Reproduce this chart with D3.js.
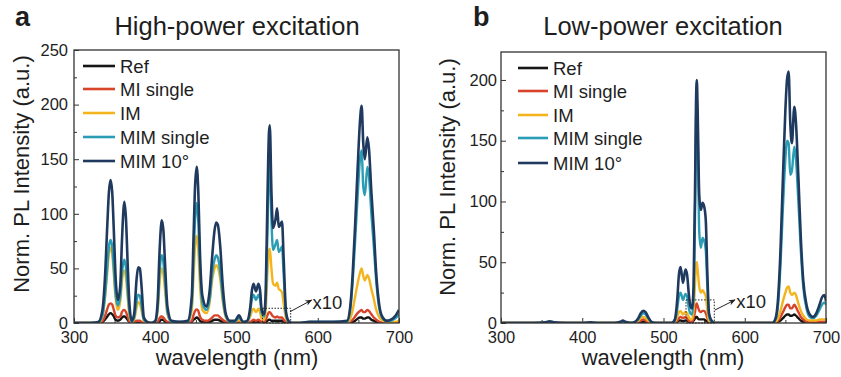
<!DOCTYPE html>
<html><head><meta charset="utf-8">
<script src="https://cdn.jsdelivr.net/npm/d3@7"></script>
<style>
body{margin:0;background:#fff}
svg{display:block}
text{font-family:"Liberation Sans",Arial,sans-serif;fill:#1e1e1e}
</style>
</head><body>
<svg id="chart" width="841" height="377"></svg>
<script>
// ---------------- DATA ----------------
const seriesNames = ["Ref", "MI single", "IM", "MIM single", "MIM 10\u00B0"];

const xTicks = [300, 400, 500, 600, 700];
const xMinorTicks = [350, 450, 550, 650];
const yTicksA = [0, 50, 100, 150, 200, 250];
const yMinorTicksA = [25, 75, 125, 175, 225];
const yTicksB = [0, 50, 100, 150, 200];
const yMinorTicksB = [25, 75, 125, 175];

// Panel a: high-power excitation
const waveA = [300,320,330,335,338,341,343,345,347,349,
  351,354,357,359,361,362,364,366,368,371,
  374,377,379,381,383,386,390,395,400,403,
  405,407,408,410,412,415,420,430,440,445,
  447,449,451,453,455,458,463,467,470,473,
  475,477,480,483,487,492,498,503,508,513,
  517,519,521,524,527,529,531,534,536,538,
  540,541,543,545,548,550,552,554,556,558,
  561,564,568,575,590,620,636,640,643,646,
  649,652,654,656,658,661,663,666,669,672,
  676,680,685,690,695,700];
const refA = [0,0,0,1,3,6,8,9,8,6,
  3,2,3,5,6,6,5,3,1,0,
  0,1,1,1,0,0,0,0,0,0,
  1,3,3,3,1,0,0,0,0,1,
  3,4,5,4,2,1,1,1,2,3,
  3,3,2,1,0,0,0,0,0,0,
  0,1,1,1,1,1,0,0,1,2,
  3,3,2,2,2,2,2,2,2,1,
  0,0,0,0,0,0,0,0,1,2,
  4,5,5,4,4,5,5,3,2,1,
  0,0,0,0,0,0];
const miSingleA = [0,0,0,2,6,13,17,18,17,12,
  7,5,6,10,12,12,10,6,2,0,
  1,2,2,2,1,0,0,0,0,1,
  4,6,6,5,3,1,0,0,0,2,
  7,11,12.5,11,6,3,2,3,5,7,
  7,7,5,3,1,0,0,1,0,0,
  1,2,3,2,3,2,1,1,3,7,
  10,10,8,6,5,6,5,5,5,3,
  1,0,0,0,0,0,0,1,3,6,
  9,11,12,10,10,12,11,8,5,3,
  1,0,0,0,0,0];
const imA = [0,0,0,6,22,47,64,69,63,45,
  24,12,20,38,47,48,41,24,8,1,
  3,14,19,18,12,2,0,0,1,11,
  33,48,50,45,30,8,1,0,1,12,
  40,70,80,66,35,12,9,19,39,50,
  53,51,40,20,5,1,1,3,0,1,
  6,11,13,10,13,10,4,3,12,45,
  66,68,50,36,34,37,31,30,28,18,
  4,1,0,0,0,0,0,4,12,24,
  36,46,50,43,39,44,41,31,22,12,
  5,2,1,1,1,2];
const mimSingleA = [0,0,1,7,24,52,70,76,70,50,
  28,16,25,45,56,58,50,30,12,1,
  5,20,26,25,17,3,1,0,1,14,
  42,60,62,56,38,10,1,1,1,18,
  55,95,110,92,50,18,12,22,45,58,
  62,60,47,24,6,1,1,5,1,1,
  11,22,26,21,26,22,9,6,22,80,
  140,150,95,67,72,76,65,67,70,45,
  8,1,0,0,1,1,1,12,38,75,
  115,150,158,125,117,143,135,100,70,38,
  12,4,2,2,4,8];
const mim10A = [0,0,1,12,40,90,120,131,120,85,
  45,21,35,75,105,111,95,55,20,2,
  8,40,51,50,35,5,1,0,2,20,
  60,88,94,85,55,15,2,1,2,25,
  75,125,143,120,65,25,15,30,60,85,
  92,90,70,35,8,2,2,7,1,2,
  15,30,36,29,36,30,12,8,30,110,
  175,181,120,87,95,105,88,90,93,60,
  10,2,0,0,1,1,2,15,45,90,
  140,185,199,165,150,170,160,120,85,45,
  15,5,2,3,6,12];

// Panel b: low-power excitation
const waveB = [300,340,355,360,365,380,400,410,420,440,
  447,450,453,460,465,469,472,475,478,481,
  485,490,500,510,514,517,519,521,524,527,
  529,531,533,535,537,539,540,541,542,544,
  546,548,550,552,554,556,559,563,570,590,
  620,634,638,641,644,647,650,652,654,656,
  658,661,663,666,669,672,676,680,684,688,
  692,695,698,700];
const refB = [0,0,0,0,0,0,0,0,0,0,
  0,0,0,0,0,0.5,1,1,1,0.5,
  0,0,0,0,0,1,2,2,1.5,2,
  2,1,0.5,0.5,2,4,5,5,4,3,
  3,3,3,2,1,0,0,0,0,0,
  0,0,0,1,2,4,6,7,7,6,
  6,7,6,4,2,1,0.5,0,0,0,
  0,0,0,0];
const miSingleB = [0,0,0,0,0,0,0,0,0,0,
  0,0,0,0,0,1,2,3,2,1,
  0,0,0,0,0.5,2,4,5,4,5,
  4,2,1,1,4,10,15,16,14,10,
  9,10,10,8,4,1,0,0,0,0,
  0,0,0.5,2,5,9,13,15,15,12,
  12,15,13,9,5,3,1,1,1,1,
  1,1,1,1];
const imB = [0,0,0,0.5,0,0,0,0,0,0,
  0,0.5,0,0,0.5,2,4,5,4,2,
  0.5,0,0,0,1,5,9,10,7,9,
  8,5,3,3,10,35,48,50,44,30,
  25,27,25,22,10,2,1,0,0,0,
  0,0,1,4,10,18,25,29,30,25,
  23,25,23,16,10,6,3,2,2,2,
  3,3,3,3];
const mimSingleB = [0,0,0.3,1,0.3,0,0,0.3,0,0,
  0.5,1,0.5,0,1,3,6,8,7,4,
  1,0,0,0,2,12,22,25,19,24,
  22,13,8,7,20,100,165,185,160,75,
  62,70,68,60,30,6,1,0,0,0,
  0,0,3,15,48,95,135,150,148,122,
  125,145,135,100,60,30,12,5,4,6,
  11,15,17,15];
const mim10B = [0,0,0.5,1.5,0.5,0,0,0.5,0,0,
  1,2,1,0,1,4,8,10,9,5,
  1,0,0,0,3,20,40,46,33,44,
  40,25,14,12,30,120,180,200,175,105,
  93,99,96,85,40,8,2,0,0,0,
  0,0,4,20,60,120,175,200,207,165,
  148,178,165,120,70,35,15,7,5,8,
  15,21,23,18];

// ---------------- STYLE / LAYOUT ----------------
const colors = ["#151515", "#d8442a", "#f4b41e", "#2a9cb4", "#1f3a5e"];
const widths = [2.4, 2.4, 2.4, 2.4, 2.6];
const FONT = '"Liberation Sans", Arial, sans-serif';

const panels = [
  {
    letter: "a", title: "High-power excitation",
    left: 74, right: 399, top: 50, bottom: 323, yMax: 250,
    yTicks: yTicksA, yMinor: yMinorTicksA, tickPad: 6,
    wave: waveA, series: [refA, miSingleA, imA, mimSingleA, mim10A],
    letterX: 15, titleX: 237, ylabX: 29, ylabY: 174, xlabX: 237,
    legX: 83, legTextX: 120, legY: [66, 89, 113, 137, 161],
    box: [532, 566.7, 13.5], arrow: [[565.8, 10.3], [592.5, 21]], noteAt: [593.5, 19]
  },
  {
    letter: "b", title: "Low-power excitation",
    left: 501, right: 826, top: 52, bottom: 323, yMax: 223,
    yTicks: yTicksB, yMinor: yMinorTicksB, tickPad: 4,
    wave: waveB, series: [refB, miSingleB, imB, mimSingleB, mim10B],
    letterX: 473, titleX: 663, ylabX: 455, ylabY: 177, xlabX: 663,
    legX: 518, legTextX: 553, legY: [68, 91, 115, 138, 163],
    box: [527.7, 562.5, 19], arrow: [[563.4, 10.7], [588, 19]], noteAt: [589.5, 17.5]
  }
];

const svg = d3.select("#chart");
svg.append("defs").append("marker")
  .attr("id", "arrowhead").attr("viewBox", "0 0 10 10")
  .attr("refX", 9).attr("refY", 5)
  .attr("markerWidth", 7).attr("markerHeight", 7)
  .attr("orient", "auto")
  .append("path").attr("d", "M0,1 L10,5 L0,9 L3,5 Z").attr("fill", "#222");

panels.forEach(p => {
  const x = d3.scaleLinear().domain([300, 700]).range([p.left, p.right]);
  const y = d3.scaleLinear().domain([0, p.yMax]).range([p.bottom, p.top]);
  const g = svg.append("g");

  const clipId = "clip-" + p.letter;
  svg.select("defs").append("clipPath").attr("id", clipId)
    .append("rect").attr("x", p.left).attr("y", p.top)
    .attr("width", p.right - p.left).attr("height", p.bottom - p.top);

  // axes (ticks inward)
  const xAxis = d3.axisBottom(x).tickValues(xTicks).tickSize(-5).tickPadding(8).tickFormat(d3.format("d"));
  const xMinor = d3.axisBottom(x).tickValues(xMinorTicks).tickSize(-3).tickFormat("");
  const yAxis = d3.axisLeft(y).tickValues(p.yTicks).tickSize(-5).tickPadding(p.tickPad).tickFormat(d3.format("d"));
  const yMinor = d3.axisLeft(y).tickValues(p.yMinor).tickSize(-3).tickFormat("");

  [[xAxis, "x"], [xMinor, "x"], [yAxis, "y"], [yMinor, "y"]].forEach(([ax, k]) => {
    const ag = g.append("g")
      .attr("transform", k === "x" ? `translate(0,${p.bottom})` : `translate(${p.left},0)`)
      .call(ax);
    ag.select(".domain").remove();
    ag.selectAll(".tick line").attr("stroke", "#333").attr("stroke-width", 1);
    ag.selectAll(".tick text").attr("font-family", FONT).attr("font-size", 16.5).attr("fill", "#1e1e1e");
  });

  // lines
  const lineGen = d3.line().curve(d3.curveMonotoneX)
    .x(d => x(d[0])).y(d => y(d[1]));
  const lg = g.append("g").attr("clip-path", `url(#${clipId})`);
  p.series.forEach((vals, i) => {
    const pts = p.wave.map((w, j) => [w, vals[j]]);
    lg.append("path").datum(pts)
      .attr("d", lineGen)
      .attr("fill", "none")
      .attr("stroke", colors[i])
      .attr("stroke-width", widths[i])
      .attr("stroke-linejoin", "round");
  });

  // frame
  g.append("rect").attr("x", p.left).attr("y", p.top)
    .attr("width", p.right - p.left).attr("height", p.bottom - p.top)
    .attr("fill", "none").attr("stroke", "#333").attr("stroke-width", 1.3);

  // dotted box + arrow + note
  g.append("rect")
    .attr("x", x(p.box[0])).attr("y", y(p.box[2]))
    .attr("width", x(p.box[1]) - x(p.box[0])).attr("height", y(0) - y(p.box[2]))
    .attr("fill", "none").attr("stroke", "#222").attr("stroke-width", 1)
    .attr("stroke-dasharray", "1.5,1.5");
  g.append("line")
    .attr("x1", x(p.arrow[0][0])).attr("y1", y(p.arrow[0][1]))
    .attr("x2", x(p.arrow[1][0])).attr("y2", y(p.arrow[1][1]))
    .attr("stroke", "#222").attr("stroke-width", 1)
    .attr("marker-end", "url(#arrowhead)");
  g.append("text")
    .attr("x", x(p.noteAt[0])).attr("y", y(p.noteAt[1]))
    .attr("dy", "0.36em").attr("font-size", 18.5).text("x10");

  // legend
  seriesNames.forEach((name, i) => {
    g.append("line")
      .attr("x1", p.legX).attr("x2", p.legTextX - 5)
      .attr("y1", p.legY[i]).attr("y2", p.legY[i])
      .attr("stroke", colors[i]).attr("stroke-width", 2.6);
    g.append("text")
      .attr("x", p.legTextX).attr("y", p.legY[i]).attr("dy", "0.36em")
      .attr("font-size", 18.5).text(name);
  });

  // titles & labels
  g.append("text").attr("x", p.letterX).attr("y", 26)
    .attr("font-size", 27).attr("font-weight", "bold").attr("fill", "#000").text(p.letter);
  g.append("text").attr("x", p.titleX).attr("y", 35)
    .attr("text-anchor", "middle").attr("font-size", 25.5).text(p.title);
  g.append("text").attr("x", p.xlabX).attr("y", 365)
    .attr("text-anchor", "middle").attr("font-size", 22).text("wavelength (nm)");
  g.append("text")
    .attr("transform", `translate(${p.ylabX},${p.ylabY}) rotate(-90)`)
    .attr("text-anchor", "middle").attr("font-size", 22).text("Norm. PL Intensity (a.u.)");
});
</script>
</body></html>
